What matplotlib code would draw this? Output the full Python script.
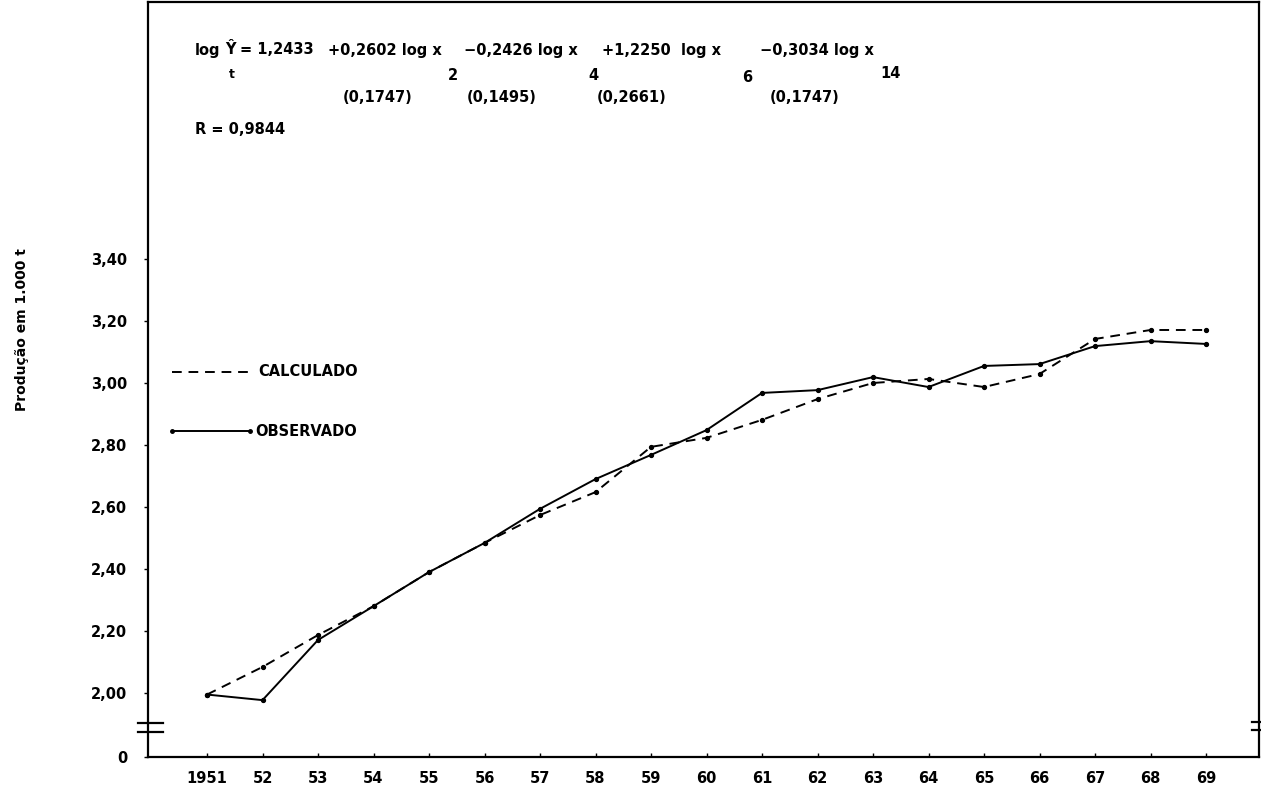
import numpy as np
import matplotlib.pyplot as plt
from matplotlib.lines import Line2D

''' producao observada x calculada, 1951-1969 '''

# dados
anos = np.arange(1951, 1970)
observado = np.array([1.995, 1.977, 2.171, 2.280, 2.390, 2.484, 2.594, 2.690, 2.768, 2.848,
                      2.968, 2.977, 3.019, 2.987, 3.055, 3.061, 3.119, 3.135, 3.126])
calculado = np.array([1.995, 2.084, 2.187, 2.280, 2.390, 2.484, 2.574, 2.648, 2.794, 2.823,
                      2.881, 2.948, 3.000, 3.013, 2.987, 3.029, 3.142, 3.171, 3.171])
x_labels = ['1951', '52', '53', '54', '55', '56', '57', '58', '59', '60',
            '61', '62', '63', '64', '65', '66', '67', '68', '69']
y_ticks = [2.00, 2.20, 2.40, 2.60, 2.80, 3.00, 3.20, 3.40]
y_labels = ['2,00', '2,20', '2,40', '2,60', '2,80', '3,00', '3,20', '3,40']

W, H = 1261, 786
plt.rcParams['font.family'] = ['DejaVu Sans']
plt.rcParams['font.weight'] = 'bold'
fig = plt.figure(figsize=(W / 100, H / 100), dpi=100)

# eixo em pixels
left, right, top, bottom = 148, 1259, 2, 757
ax = fig.add_axes([left / W, (H - bottom) / H, (right - left) / W, (bottom - top) / H])
y_bot = 2.00 - (bottom - 693) / 310
y_top = 2.00 + (693 - top) / 310
ax.set_ylim(y_bot, y_top)
ax.set_xlim(1951 - (207 - left) / 55.5, 1951 + (right - 207) / 55.5)

ax.plot(anos, calculado, color='black', lw=1.4, ls=(0, (5, 3.5)), marker='o', ms=2.8)
ax.plot(anos, observado, color='black', lw=1.4, ls='-', marker='o', ms=2.8)

ax.set_xticks(anos)
ax.set_xticklabels(x_labels, fontsize=10.5, fontweight='bold')
ax.set_yticks([y_bot] + y_ticks)
ax.set_yticklabels(['0'] + y_labels, fontsize=10.5, fontweight='bold')
ax.tick_params(axis='x', direction='in', length=3, width=1, pad=10)
ax.tick_params(axis='y', direction='out', length=3, width=1, pad=12)
for s in ax.spines.values():
    s.set_linewidth(1.6)

# quebra do eixo
def px(x, y):
    return x / W, 1 - y / H

for yy in (723, 732):
    fig.add_artist(Line2D([px(138, 0)[0], px(163, 0)[0]], [px(0, yy)[1]] * 2, color='black', lw=1.6))
for yy in (722, 730):
    fig.add_artist(Line2D([px(1252, 0)[0], px(1261, 0)[0]], [px(0, yy)[1]] * 2, color='black', lw=1.6))

# legenda
fig.add_artist(Line2D([px(172, 0)[0], px(253, 0)[0]], [px(0, 372)[1]] * 2, color='black', lw=1.4, ls=(0, (5, 3.5))))
fig.text(*px(258, 372), 'CALCULADO', fontsize=10.5, fontweight='bold', va='center')
fig.add_artist(Line2D([px(172, 0)[0], px(250, 0)[0]], [px(0, 431)[1]] * 2, color='black', lw=1.4,
                      marker='o', ms=2.5, markevery=[0, 1]))
fig.text(*px(255, 431), 'OBSERVADO', fontsize=10.5, fontweight='bold', va='center')

# titulo y
fig.text(*px(22, 330), 'Produção em 1.000 t', rotation=90, fontsize=10, fontweight='bold',
         va='center', ha='center')

# equacao
fs = 10.5
def t(x, y, s, size=fs):
    fig.text(*px(x, y), s, fontsize=size, fontweight='bold', va='center', ha='left')

t(195, 50, 'log')
t(225, 50, 'Ŷ')
t(229, 75, 't', 9)
t(240, 50, '= 1,2433')
t(328, 50, '+0,2602 log x')
t(448, 76, '2')
t(464, 50, '−0,2426 log x')
t(588, 76, '4')
t(602, 50, '+1,2250  log x')
t(742, 78, '6')
t(760, 50, '−0,3034 log x')
t(880, 74, '14')
t(343, 98, '(0,1747)')
t(467, 98, '(0,1495)')
t(597, 98, '(0,2661)')
t(770, 98, '(0,1747)')
t(195, 130, 'R = 0,9844')

fig.savefig('out.png', dpi=100)
